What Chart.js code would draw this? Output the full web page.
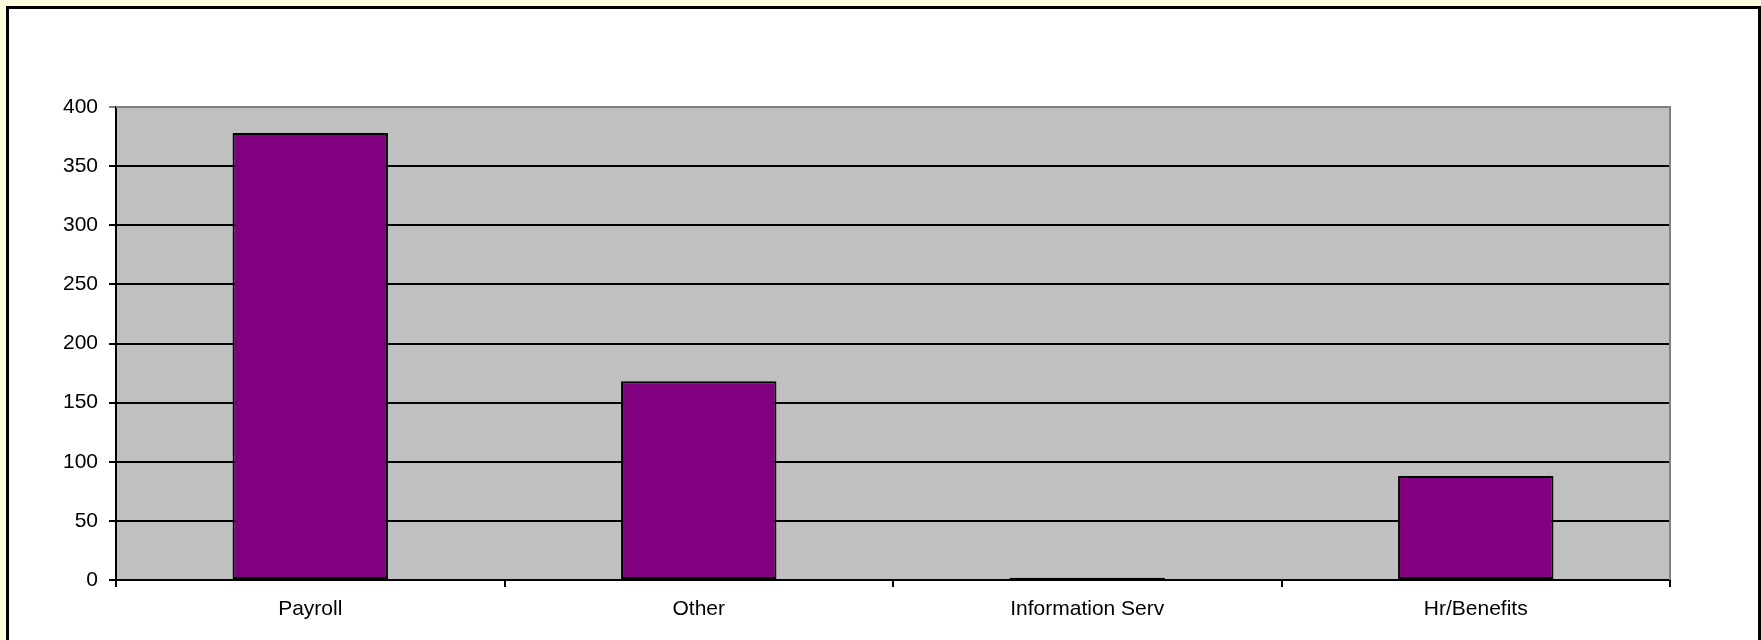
<!DOCTYPE html>
<html>
<head>
<meta charset="utf-8">
<script src="https://cdn.jsdelivr.net/npm/chart.js@4/dist/chart.umd.min.js"></script>
<style>
  html, body { margin: 0; padding: 0; overflow: hidden; background: #FFFFE0; }
  #marco {
    position: absolute; left: 6px; top: 6px;
    width: 1749px; height: 700px;
    border: 3px solid #000; border-bottom: none;
    background: #fff;
  }
  #grafica { position: absolute; left: 0; top: 0; }
</style>
</head>
<body>
<div id="marco"></div>
<canvas id="grafica" width="1761" height="640"></canvas>
<script>
const categorias = ["Payroll", "Other", "Information Serv", "Hr/Benefits"];
const valores = [378, 168, 2, 88];
const ejeY = { min: 0, max: 400, paso: 50 };

const fondoPlot = {
  id: "fondoPlot",
  beforeDraw(chart) {
    const { ctx, chartArea: a } = chart;
    ctx.save();
    ctx.fillStyle = "#C0C0C0";
    ctx.fillRect(a.left, a.top, a.right - a.left, a.bottom - a.top);
    ctx.restore();
  },
  afterDatasetsDraw(chart) {
    const { ctx, chartArea: a } = chart;
    ctx.save();
    ctx.strokeStyle = "#808080";
    ctx.lineWidth = 2;
    ctx.beginPath();
    ctx.moveTo(a.left, a.top);
    ctx.lineTo(a.right, a.top);
    ctx.lineTo(a.right, a.bottom);
    ctx.stroke();
    ctx.restore();
  }
};

new Chart("grafica", {
  type: "bar",
  data: {
    labels: categorias,
    datasets: [{
      data: valores,
      backgroundColor: "#800080",
      borderColor: "#000",
      borderWidth: 2,
      borderSkipped: false,
      categoryPercentage: 1,
      barPercentage: 0.4
    }]
  },
  options: {
    responsive: false,
    animation: false,
    layout: { padding: { left: 0, top: 107, right: 91, bottom: 0 } },
    plugins: { legend: { display: false }, tooltip: { enabled: false } },
    scales: {
      x: {
        afterFit(s) { s.height = 60; },
        grid: { drawOnChartArea: false, color: "#000", lineWidth: 2, tickLength: 7 },
        border: { color: "#000", width: 2 },
        ticks: { color: "#000", padding: 10, font: { family: "Liberation Sans, Arial", size: 21 } }
      },
      y: {
        min: ejeY.min,
        max: ejeY.max,
        afterFit(s) { s.width = 116; },
        grid: {
          color: (c) => c.tick && c.tick.value === ejeY.max ? "#808080" : "#000",
          lineWidth: 2,
          tickLength: 7
        },
        border: { color: "#000", width: 2 },
        ticks: { stepSize: ejeY.paso, color: "#000", padding: 11, font: { family: "Liberation Sans, Arial", size: 21 } }
      }
    }
  },
  plugins: [fondoPlot]
});
</script>
</body>
</html>
